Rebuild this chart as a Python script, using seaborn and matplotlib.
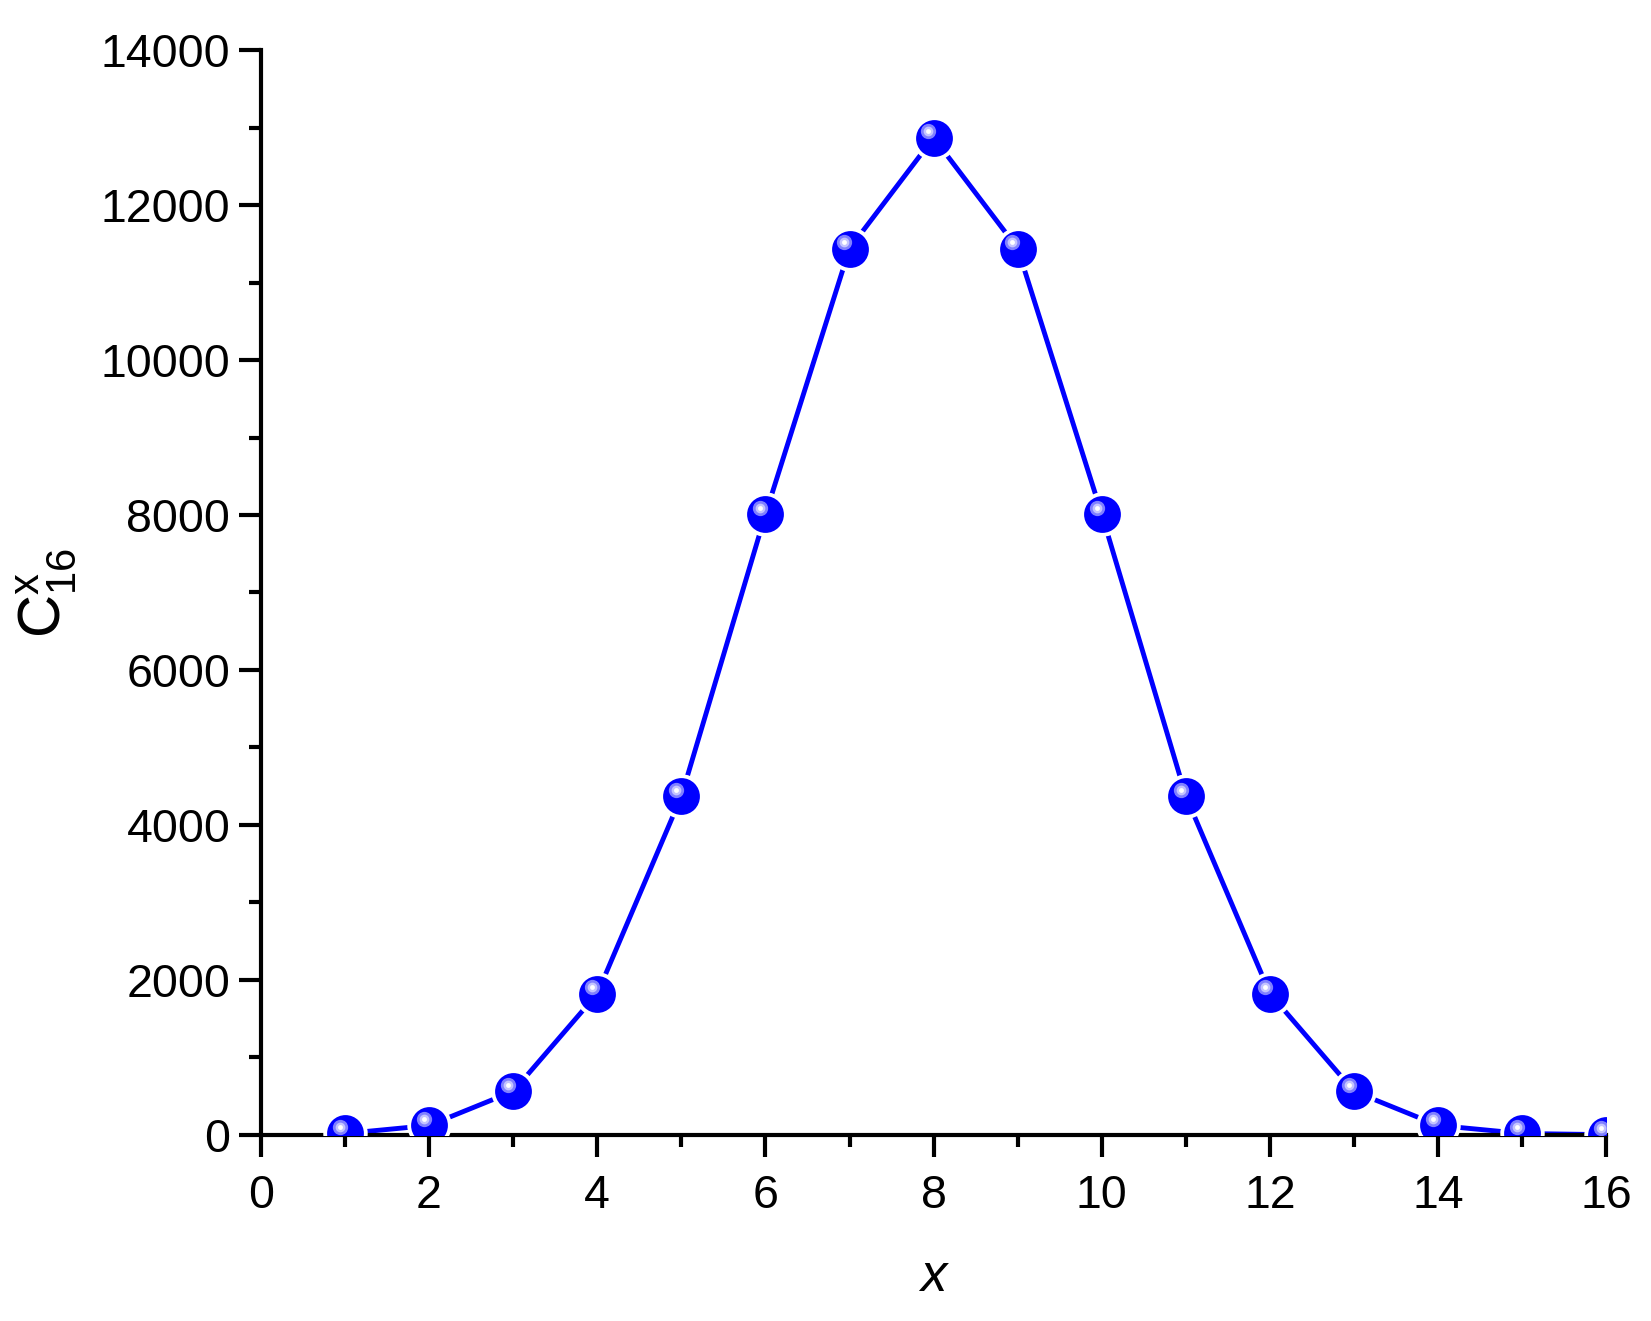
import numpy as np
import pandas as pd
import matplotlib
matplotlib.use("Agg")
import matplotlib.pyplot as plt
import matplotlib.transforms as mtransforms
from matplotlib.ticker import MultipleLocator
import seaborn as sns

# values (C(16, x))
x_vals = [1, 2, 3, 4, 5, 6, 7, 8, 9, 10, 11, 12, 13, 14, 15, 16]
c_vals = [16, 120, 560, 1820, 4368, 8008, 11440, 12870, 11440, 8008, 4368, 1820, 560, 120, 16, 1]
x_ticks = [0, 2, 4, 6, 8, 10, 12, 14, 16]
y_ticks = [0, 2000, 4000, 6000, 8000, 10000, 12000, 14000]

df = pd.DataFrame({'x': x_vals, 'c': c_vals})

sns.set_style('ticks')
plt.rcParams['font.family'] = ['Liberation Sans', 'DejaVu Sans']
plt.rcParams['mathtext.fontset'] = 'custom'
plt.rcParams['mathtext.rm'] = 'Liberation Sans'
plt.rcParams['mathtext.it'] = 'Liberation Sans:italic'

fig = plt.figure(figsize=(16.51, 13.21), dpi=100)
ax = fig.add_axes([0.158, 0.141, 0.815, 0.821])

# line, then white halo so the line stops short of each ball
sns.lineplot(data=df, x='x', y='c', color='#0000ff', linewidth=3.5, ax=ax, zorder=2)
ax.plot(df['x'], df['c'], 'o', ms=32, color='white', mec='none', zorder=3)
ax.plot(df['x'], df['c'], 'o', ms=26.5, color='#0000ff', mec='none', zorder=4)

# shiny highlight on each ball
hl = mtransforms.offset_copy(ax.transData, fig=fig, x=-3.8, y=4.5, units='points')
ax.plot(df['x'], df['c'], 'o', ms=11, color='#8080ff', mec='none', zorder=5, transform=hl)
ax.plot(df['x'], df['c'], 'o', ms=7, color='#c4c4ff', mec='none', zorder=6, transform=hl)
ax.plot(df['x'], df['c'], 'o', ms=3.5, color='white', mec='none', zorder=7, transform=hl)

ax.set_xlim(0, 16)
ax.set_ylim(0, 14000)
ax.set_xticks(x_ticks)
ax.set_yticks(y_ticks)
ax.xaxis.set_minor_locator(MultipleLocator(1))
ax.yaxis.set_minor_locator(MultipleLocator(1000))

sns.despine(ax=ax)
for s in ['left', 'bottom']:
    ax.spines[s].set_linewidth(3)
    ax.spines[s].set_color('black')
ax.tick_params(which='major', direction='out', length=16, width=3, labelsize=33.5,
               pad=6, color='black', labelcolor='black')
ax.tick_params(which='minor', direction='out', length=8.5, width=3, color='black')
ax.tick_params(axis='x', which='major', pad=12)

ax.set_xlabel('x', fontsize=38, style='italic', color='black')
ax.set_ylabel(r'$\mathregular{C_{16}^{x}}$', fontsize=43, color='black')
ax.xaxis.set_label_coords(0.5, -0.131)
ax.xaxis.label.set_va('center')
ax.yaxis.set_label_coords(-0.159, 0.5)
ax.yaxis.label.set_va('center')

fig.savefig('out.png', dpi=100)
